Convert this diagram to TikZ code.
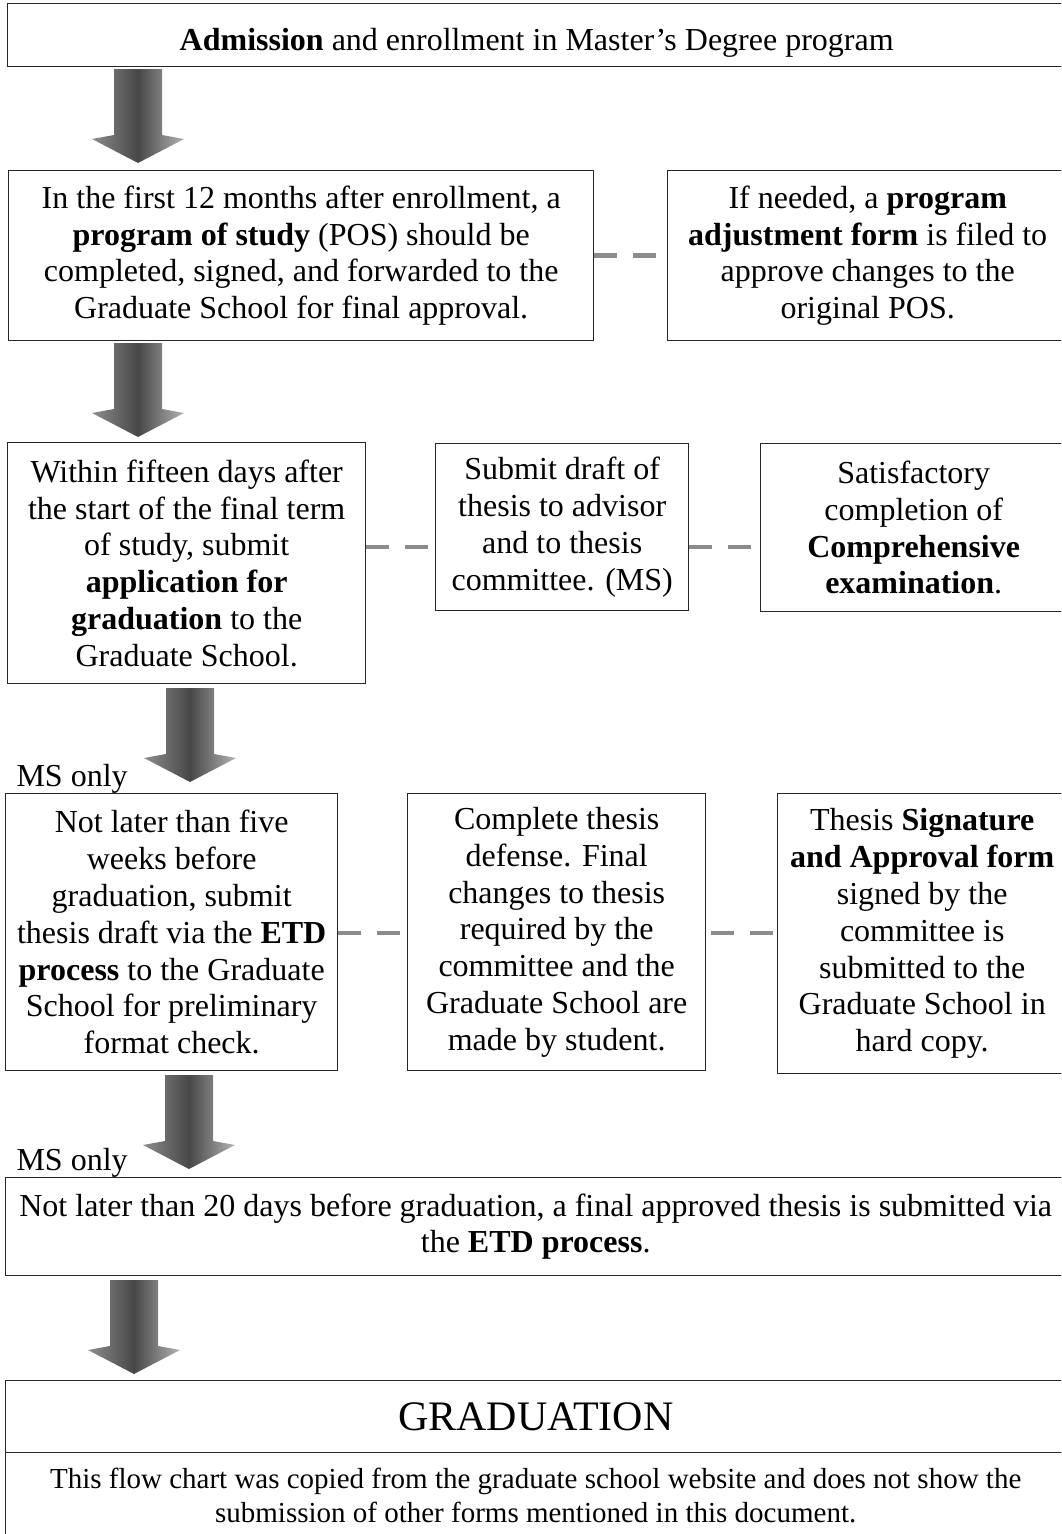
\documentclass[tikz,border=0pt]{standalone}
\usepackage{fontspec}
\setmainfont{Liberation Serif}

% block arrow between two steps, drawn from its top point
\newcommand{\flowarrow}[1]{%
  \shade[flow, shift={(#1)}] (-24,0) -- (24,0) -- (24,66) -- (46,70) -- (0,94)
    -- (-46,70) -- (-24,66) -- cycle;}

\begin{document}
\begin{tikzpicture} [x=1pt, y=-1pt,
  every node/.style={font=\fontsize{32}{36.8}\selectfont},
  box/.style={draw=black!85, line width=1.4pt, align=center, inner sep=0pt, anchor=north west},
  link/.style={draw=black!45, line width=4.5pt, dash pattern=on 23pt off 16pt,
    shorten <=5pt, shorten >=3pt},
  flow/.style={left color=black!45, right color=black!30, middle color=black!72}
]
\clip (0,0) rectangle (1061,1534);
\useasboundingbox (0,0) rectangle (1061,1534);

\node[box, minimum width=1058pt, minimum height=63pt, text height=38pt] (admit) at (7,3)
  {\textbf{Admission} and enrollment in Master’s Degree program};

\node[box, minimum width=585pt, minimum height=170pt] (pos) at (8,170)
  {In the first 12 months after enrollment, a\\
   \textbf{program of study} (POS) should be\\
   completed, signed, and forwarded to the\\
   Graduate School for final approval.};
\node[box, minimum width=400pt, minimum height=170pt] (adjust) at (667,170)
  {If needed, a \textbf{program}\\
   \textbf{adjustment form} is filed to\\
   approve changes to the\\
   original POS.};

\node[box, minimum width=358pt, minimum height=241pt] (apply) at (7,442)
  {Within fifteen days after\\
   the start of the final term\\
   of study, submit\\
   \textbf{application for}\\
   \textbf{graduation} to the\\
   Graduate School.};
\node[box, minimum width=253pt, minimum height=167pt] (draft) at (435,443)
  {Submit draft of\\
   thesis to advisor\\
   and to thesis\\
   committee. (MS)};
\node[box, minimum width=306pt, minimum height=168pt] (comp) at (760,443)
  {Satisfactory\\
   completion of\\
   \textbf{Comprehensive}\\
   \textbf{examination}.};

\node[anchor=base west] (ms1) at (13,786) {MS only};

\node[box, minimum width=332pt, minimum height=277pt] (etd) at (5,793)
  {Not later than five\\
   weeks before\\
   graduation, submit\\
   thesis draft via the \textbf{ETD}\\
   \textbf{process} to the Graduate\\
   School for preliminary\\
   format check.};
\node[box, minimum width=298pt, minimum height=277pt] (defense) at (407,793)
  {Complete thesis\\
   defense. Final\\
   changes to thesis\\
   required by the\\
   committee and the\\
   Graduate School are\\
   made by student.};
\node[box, minimum width=289pt, minimum height=280pt] (sign) at (777,793)
  {Thesis \textbf{Signature}\\
   \textbf{and Approval form}\\
   signed by the\\
   committee is\\
   submitted to the\\
   Graduate School in\\
   hard copy.};

\node[anchor=base west] (ms2) at (13,1170) {MS only};

\node[box, minimum width=1060pt, minimum height=98pt] (final) at (5,1177)
  {Not later than 20 days before graduation, a final approved thesis is submitted via\\
   the \textbf{ETD process}.};

\node[box, minimum width=1060pt, minimum height=72pt, font=\fontsize{42}{48}\selectfont]
  (grad) at (5,1380) {GRADUATION};
\node[box, minimum width=1060pt, minimum height=86pt, font=\fontsize{29}{34}\selectfont]
  (note) at (5,1452)
  {This flow chart was copied from the graduate school website and does not show the\\
   submission of other forms mentioned in this document.};

%dashed links
\coordinate (d3) at (0,547);
\coordinate (d4) at (0,933);
\path[link]
(pos.east) -- (adjust.west)
(apply.east |- d3) -- (draft.west |- d3)
(draft.east |- d3) -- (comp.west |- d3)
(etd.east |- d4) -- (defense.west |- d4)
(defense.east |- d4) -- (sign.west |- d4)
;

%block arrows
\coordinate (a1) at (138,69);
\coordinate (a2) at (138,343);
\coordinate (a3) at (190,688);
\coordinate (a4) at (189,1075);
\coordinate (a5) at (134,1280);
\flowarrow{a1}
\flowarrow{a2}
\flowarrow{a3}
\flowarrow{a4}
\flowarrow{a5}
\end{tikzpicture}
\end{document}
